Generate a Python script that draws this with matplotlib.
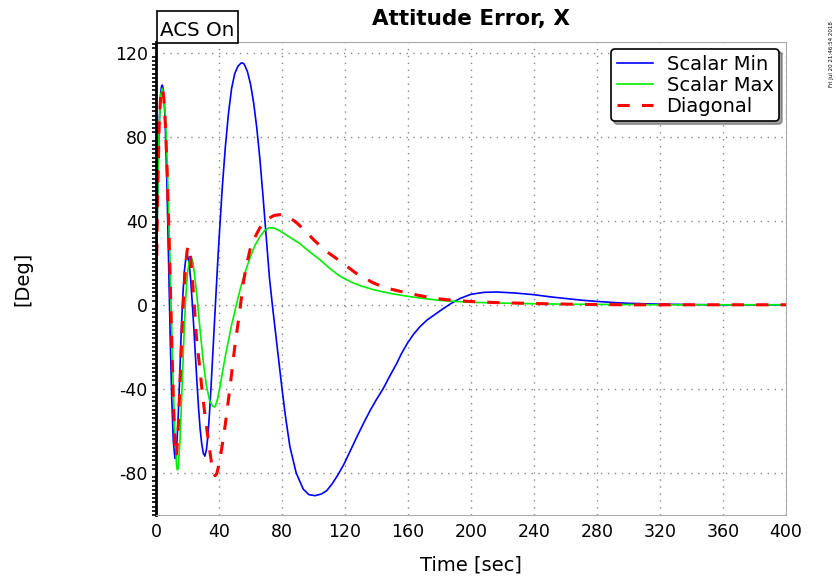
import matplotlib
matplotlib.use('Agg')
import matplotlib.pyplot as plt
from matplotlib.patches import Rectangle
from matplotlib.ticker import MultipleLocator

plt.rcParams['font.family'] = 'DejaVu Sans'
plt.rcParams['axes.unicode_minus'] = False

# attitude error, x axis [deg] for three inertia cases
t_min = [0, 0.5, 1, 1.5, 2, 2.5, 3, 3.5, 4, 4.5, 5, 5.5, 6, 7, 8, 9, 10, 11, 12,
         12.5, 13, 14, 15, 16, 17, 18, 19, 19.5, 20, 21, 22, 23, 24, 25, 26, 27,
         28, 29, 30, 31, 32, 33, 34, 35, 36, 37, 38, 39, 40, 42, 44, 46, 48, 50,
         52, 54, 55, 56, 58, 60, 62, 64, 66, 68, 70, 72, 74, 76, 78, 80, 82, 85,
         89, 93.5, 97, 101, 105, 108.4, 112, 115.8, 119.4, 123, 127.4, 132, 136,
         140, 144.3, 148, 152.8, 156, 159.6, 163.5, 167.6, 172, 178.2, 183, 187.7,
         193, 200, 208, 216, 228, 240, 250, 260, 270, 280, 290, 300, 320, 340,
         360, 400]
err_min = [0, 25, 50, 70, 85, 95, 101, 104, 104.5, 103, 99, 92, 82, 55, 20, -15,
           -45, -65, -73, -73, -69, -55, -35, -13, 4, 16, 22.5, 24, 23.5, 20, 12, 1,
           -11, -24, -37, -49, -59, -66, -70.5, -72, -69, -62, -51, -38, -24, -10, 4,
           18, 31, 55, 75, 91, 103, 110, 113.5, 115, 115, 114.5, 111, 105, 96, 84,
           69, 51, 32, 13, -1, -14, -27, -40, -52, -67.5, -80, -87.7, -90.3, -90.8,
           -90, -88.4, -85, -80.5, -75.7, -70, -63, -56, -50.2, -45, -39.8, -34.5,
           -27.9, -23, -18.3, -14, -10.4, -7.3, -4, -1.5, 0.8, 3, 5, 5.9, 6.1, 5.6,
           4.8, 3.8, 3, 2.2, 1.6, 1.1, 0.7, 0.3, 0.1, 0, 0]

t_max = [0, 1, 2, 3, 4, 5, 6, 7, 8, 9, 10, 11, 12, 13, 13.5, 14, 15, 16, 17, 18,
         19, 20, 21, 22, 22.6, 23.5, 24.5, 26, 28, 30, 32, 34, 36, 37.5, 39, 40.6,
         42, 44, 46, 48, 51, 54, 57, 60, 63, 66, 69, 72, 75, 78, 82, 86, 91, 97,
         104, 110, 117, 124, 130, 138, 145, 152, 160, 170, 180, 190, 200, 220,
         240, 260, 280, 300, 320, 400]
err_max = [0, 50, 85, 100, 103, 99, 89, 70, 45, 18, -12, -40, -62, -76, -78.5,
           -78, -68, -50, -30, -10, 5, 15, 20.5, 22.3, 22.3, 20, 14, 4, -12, -27,
           -38.5, -45.5, -48.3, -48.6, -45, -39, -33, -24.5, -17, -9.5, 0, 9, 16.5,
           23, 28.5, 32.5, 35.3, 36.7, 36.5, 35.4, 33.6, 31.6, 29.3, 25.5, 21.5,
           17.5, 13.5, 10.8, 9, 7.2, 6, 5, 4, 3, 2.1, 1.6, 1.2, 0.8, 0.5, 0.3, 0.2,
           0.1, 0, 0]

t_diag = [0, 1, 2, 3, 4, 5, 6, 7, 8, 9, 10, 11, 12, 12.5, 13, 14, 15, 16, 17, 18,
          19, 19.8, 20.5, 21.2, 22, 23, 24, 25.8, 27.5, 29, 31, 33.2, 35, 36.5,
          37.5, 38.5, 40, 42, 43.8, 46, 48, 50, 51.2, 53, 55.4, 57.5, 59.7, 62, 66,
          70.3, 75, 79.8, 84, 89.3, 95, 100, 108, 117, 127, 138, 146, 155, 162,
          170, 177, 185, 199, 214, 240, 270, 300, 400]
err_diag = [0, 50, 85, 100, 103, 98, 85, 65, 40, 12, -18, -45, -65, -72, -72, -60,
            -42, -22, -3, 10, 20, 26, 28, 27, 22, 13, 3, -16.7, -28, -39, -52, -64.5,
            -74, -80, -81.3, -80.5, -76, -67, -58, -45, -32.7, -20, -13.5, -4, 10.4,
            19, 26.3, 31, 36.7, 40.6, 42.5, 43, 42, 39, 35, 31, 25.5, 20.7, 15, 10.4,
            8, 6.4, 5.2, 4, 3.1, 2.4, 1.6, 1.1, 0.6, 0.2, 0, 0]

fig = plt.figure(figsize=(8.37, 5.82), dpi=100)
ax = fig.add_axes([0.1864, 0.1151, 0.7527, 0.8127])

ax.plot(t_min, err_min, color='blue', lw=1.2, label='Scalar Min')
ax.plot(t_max, err_max, color='#00ee00', lw=1.2, label='Scalar Max')
ax.plot(t_diag, err_diag, color='red', lw=2.2, dashes=(4, 4), label='Diagonal')

ax.set_xlim(0, 400)
ax.set_ylim(-100, 125)
ax.set_xticks(range(0, 401, 40))
ax.set_yticks([-80, -40, 0, 40, 80, 120])
ax.yaxis.set_minor_locator(MultipleLocator(2))
ax.tick_params(axis='both', which='major', length=0, labelsize=12.5, pad=6)
ax.tick_params(axis='y', which='minor', length=3, width=1.2, color='black', direction='out')
ax.grid(True, which='major', linestyle=(0, (1, 4)), color='#888888', lw=1)

for side in ['top', 'right', 'bottom']:
    ax.spines[side].set_color('#aaaaaa')
ax.spines['left'].set_linewidth(2)
ax.spines['left'].set_color('black')

ax.set_title('Attitude Error, X', fontsize=15.5, fontweight='bold', pad=12)
ax.set_xlabel('Time [sec]', fontsize=14, labelpad=10)
ax.set_ylabel('[Deg]', fontsize=14)
ax.yaxis.set_label_coords(-0.197, 0.5)

# "ACS On" tag sitting on top of the axes
fig.patches.append(Rectangle((0.1876, 0.9261), 0.0968, 0.055, transform=fig.transFigure,
                             facecolor='white', edgecolor='black', lw=1.2))
fig.text(0.1912, 0.9381, 'ACS On', fontsize=14.3, ha='left', va='baseline')

leg = ax.legend(loc='upper right', fontsize=14, fancybox=True, shadow=True,
                framealpha=1, edgecolor='black', borderpad=0.3,
                labelspacing=0.1, handlelength=1.85, handletextpad=0.7,
                borderaxespad=0.35)
leg.get_frame().set_linewidth(1.2)

fig.text(0.994, 0.85, 'Fri Jul 20 21:46:54 2018', rotation=90, fontsize=4,
         ha='center', va='bottom')

fig.savefig('out.png', dpi=100)
